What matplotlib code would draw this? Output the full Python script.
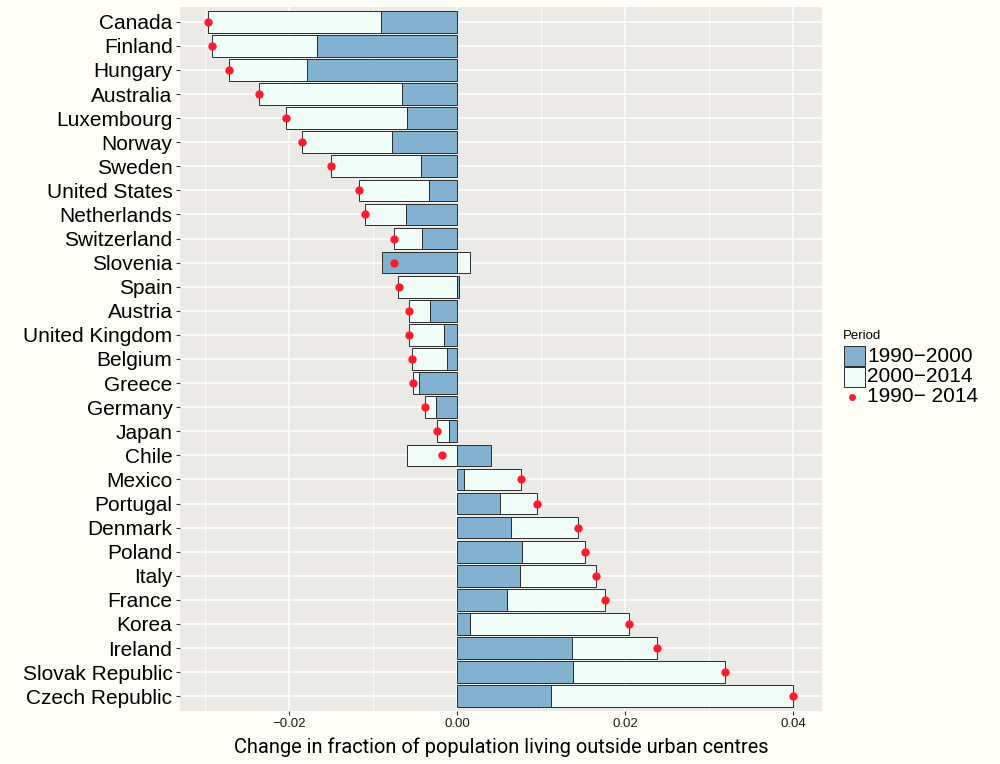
import numpy as np
import matplotlib
matplotlib.use("Agg")
import matplotlib.pyplot as plt
from matplotlib.patches import Rectangle
from matplotlib.lines import Line2D
from matplotlib import font_manager

countries = ["Canada", "Finland", "Hungary", "Australia", "Luxembourg", "Norway",
             "Sweden", "United States", "Netherlands", "Switzerland", "Slovenia",
             "Spain", "Austria", "United Kingdom", "Belgium", "Greece", "Germany",
             "Japan", "Chile", "Mexico", "Portugal", "Denmark", "Poland", "Italy",
             "France", "Korea", "Ireland", "Slovak Republic", "Czech Republic"]

change_1990_2000 = [-0.0091, -0.0167, -0.0178, -0.0065, -0.0060, -0.0077, -0.0043,
                    -0.0033, -0.0061, -0.0042, -0.0089, 0.0002, -0.0032, -0.0015,
                    -0.0012, -0.0045, -0.0025, -0.0010, 0.0041, 0.0008, 0.0051,
                    0.0064, 0.0077, 0.0075, 0.0059, 0.0016, 0.0137, 0.0138, 0.0112]

change_2000_2014 = [-0.0205, -0.0125, -0.0094, -0.0171, -0.0144, -0.0107, -0.0107,
                    -0.0084, -0.0049, -0.0033, 0.0015, -0.0070, -0.0025, -0.0042,
                    -0.0041, -0.0007, -0.0013, -0.0014, -0.0059, 0.0068, 0.0044,
                    0.0080, 0.0075, 0.0090, 0.0117, 0.0189, 0.0101, 0.0181, 0.0288]

change_1990_2014 = [-0.0296, -0.0292, -0.0272, -0.0236, -0.0204, -0.0184, -0.0150,
                    -0.0117, -0.0110, -0.0075, -0.0075, -0.0069, -0.0057, -0.0057,
                    -0.0053, -0.0052, -0.0038, -0.0024, -0.0018, 0.0076, 0.0095,
                    0.0144, 0.0152, 0.0165, 0.0176, 0.0205, 0.0238, 0.0319, 0.0400]

period_labels = ["1990\u22122000", "2000\u22122014", "1990\u2212 2014"]
x_ticks = [-0.02, 0.0, 0.02, 0.04]
x_tick_labels = ["\u22120.02", "0.00", "0.02", "0.04"]

OUTER = "#FEFEF7"
PANEL = "#ECEAE6"
BLUE = "#83B2D0"
LIGHT = "#EFFCF7"
RED = "#FF1A2E"
EDGE = "#2b2b2b"

plt.rcParams["font.family"] = ["Liberation Sans", "DejaVu Sans"]

available = {f.name for f in font_manager.fontManager.ttflist}
label_font = "Open Sans"
for cand in ["Liberation Sans Narrow", "Roboto", "Lato", "Open Sans"]:
    if cand in available:
        label_font = cand
        break

fig = plt.figure(figsize=(10, 7.64), dpi=100, facecolor=OUTER)
ax = fig.add_axes([0.18, 1 - 710.7 / 764, 0.642, (710.7 - 7.3) / 764])
ax.set_facecolor(PANEL)

n = len(countries)
y = np.arange(n)
v1 = np.array(change_1990_2000)
v2 = np.array(change_2000_2014)
tot = np.array(change_1990_2014)
# stack positives and negatives separately (like ggplot position_stack)
left2 = np.where(np.sign(v2) == np.sign(v1), v1, 0.0)

ax.barh(y, v1, height=0.9, color=BLUE, edgecolor=EDGE, linewidth=0.7, zorder=3)
ax.barh(y, v2, left=left2, height=0.9, color=LIGHT, edgecolor=EDGE, linewidth=0.7, zorder=3)
ax.scatter(tot, y, s=36, color=RED, zorder=4, linewidths=0)

ax.set_xlim(-0.032976, 0.043452)
ax.set_ylim(n - 1 + 0.6, -0.6)
ax.set_yticks(y)
ax.set_yticklabels(countries, fontsize=15, color="black")
ax.set_xticks(x_ticks)
ax.set_xticklabels(x_tick_labels, fontsize=9.5, color="#1a1a1a")
ax.set_xticks([-0.03, -0.01, 0.01, 0.03], minor=True)
ax.tick_params(axis="both", which="major", length=2.9, width=0.8, color="#333333", pad=2.5)
ax.tick_params(axis="x", which="minor", length=0)
ax.grid(True, which="major", color="white", linewidth=1.1, zorder=0)
ax.grid(True, which="minor", axis="x", color="white", linewidth=0.55, zorder=0)
ax.set_axisbelow(True)
for s in ax.spines.values():
    s.set_visible(False)

xl = ax.set_xlabel("Change in fraction of population living outside urban centres",
                   fontsize=14, family=[label_font, "DejaVu Sans"], labelpad=5)

# fit xlabel width to reference (~539 px)
fig.canvas.draw()
r = fig.canvas.get_renderer()
w = xl.get_window_extent(r).width
xl.set_fontsize(14 * 539.0 / w)

def fx(px):
    return px / 1000.0

def fy(py):
    return 1 - py / 764.0

fig.text(fx(843), fy(336), "Period", fontsize=9.5, va="center", ha="left")
fig.add_artist(Rectangle((fx(843.5), fy(366)), fx(21), 20 / 764.0, transform=fig.transFigure,
                         facecolor=BLUE, edgecolor=EDGE, linewidth=0.7))
fig.add_artist(Rectangle((fx(843.5), fy(387)), fx(21), 20 / 764.0, transform=fig.transFigure,
                         facecolor=LIGHT, edgecolor=EDGE, linewidth=0.7))
fig.add_artist(Line2D([fx(852)], [fy(397)], marker="o", markersize=5, color=RED,
                      markeredgewidth=0, transform=fig.transFigure))
for i, lab in enumerate(period_labels):
    fig.text(fx(867), fy(356.5 + 20 * i), lab, fontsize=15, va="center", ha="left")

fig.savefig("out.png", dpi=100, facecolor=OUTER)
